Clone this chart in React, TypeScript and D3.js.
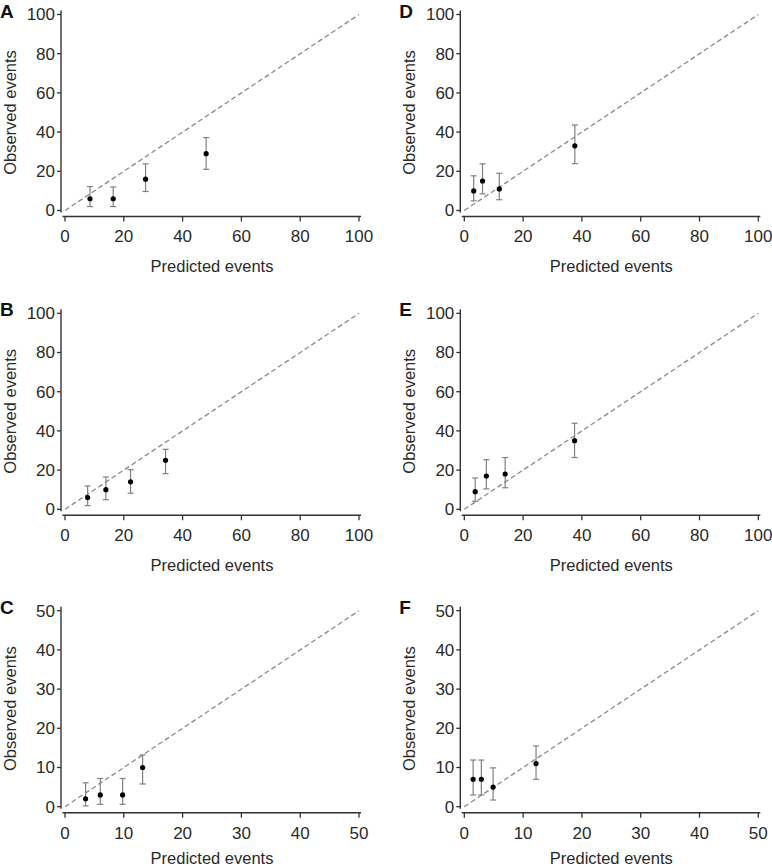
import React from "react";
import * as d3 from "d3";

// Panel data: predicted (x), observed (y), lower CI, upper CI
const predA = [8.5, 16.4, 27.4, 48];
const obsA = [6, 6, 16, 29];
const loA = [2, 2, 9.7, 21];
const hiA = [12.2, 12, 23.8, 37.2];

const predB = [7.7, 13.9, 22.3, 34.2];
const obsB = [6, 10, 14, 25];
const loB = [1.9, 4.9, 8.2, 18.2];
const hiB = [11.9, 16.5, 20.2, 30.6];

const predC = [3.5, 6.0, 9.8, 13.2];
const obsC = [2, 3, 3, 10];
const loC = [0.2, 0.6, 0.6, 5.8];
const hiC = [6.1, 7.2, 7.2, 13.2];

const predD = [3.2, 6.2, 11.9, 37.6];
const obsD = [10, 15, 11, 33];
const loD = [4.9, 8.5, 5.5, 23.9];
const hiD = [17.7, 23.8, 19, 43.6];

const predE = [3.7, 7.5, 13.9, 37.5];
const obsE = [9, 17, 18, 35];
const loE = [4.1, 10.4, 11, 26.4];
const hiE = [16, 25.3, 26.4, 43.9];

const predF = [1.5, 2.9, 4.9, 12.2];
const obsF = [7, 7, 5, 11];
const loF = [3, 3, 1.7, 7];
const hiF = [11.9, 11.9, 9.9, 15.5];

const ticks100 = [0, 20, 40, 60, 80, 100];
const ticks50 = [0, 10, 20, 30, 40, 50];

const panelLabels = ["A", "B", "C", "D", "E", "F"];
const xTitle = "Predicted events";
const yTitle = "Observed events";

const FONT = "'Liberation Sans', Arial, Helvetica, sans-serif";
const TXT = "#2a2a2a";
const AX = "#333";

type PanelProps = {
  label: string;
  pred: number[];
  obs: number[];
  lo: number[];
  hi: number[];
  max: number;
  ticks: number[];
  left: number;
  top: number;
  titleGap: number;
};

const PW = 294;
const PH = 196;

function Panel({ label, pred, obs, lo, hi, max, ticks, left, top, titleGap }: PanelProps) {
  const x = d3.scaleLinear().domain([0, max]).range([left, left + PW]);
  const y = d3.scaleLinear().domain([0, max]).range([top + PH, top]);
  const axX = left - 4;
  const axY = top + PH + 6;
  const line = d3.line<number>().x((d) => x(d)).y((d) => y(d));
  const capW = 3;
  return (
    <g>
      <text x={axX - 61} y={top + 3} fontFamily={FONT} fontWeight="bold" fontSize={19} fill="#111">
        {label}
      </text>
      {/* y axis */}
      <line x1={axX} x2={axX} y1={y(max) - 4} y2={y(0) + 2} stroke={AX} strokeWidth={1.4} />
      {ticks.map((t) => (
        <g key={"y" + t}>
          <line x1={axX - 4} x2={axX} y1={y(t)} y2={y(t)} stroke={AX} strokeWidth={1.3} />
          <text
            x={axX - 6}
            y={y(t)}
            dy="0.35em"
            textAnchor="end"
            fontFamily={FONT}
            fontSize={17}
            fill={TXT}
          >
            {t}
          </text>
        </g>
      ))}
      {/* x axis */}
      <line x1={x(0) - 2.5} x2={x(max) + 2} y1={axY} y2={axY} stroke={AX} strokeWidth={1.4} />
      {ticks.map((t) => (
        <g key={"x" + t}>
          <line x1={x(t)} x2={x(t)} y1={axY} y2={axY + 5} stroke={AX} strokeWidth={1.3} />
          <text
            x={x(t)}
            y={axY + 20}
            dy="0.35em"
            textAnchor="middle"
            fontFamily={FONT}
            fontSize={17}
            fill={TXT}
          >
            {t}
          </text>
        </g>
      ))}
      <text
        x={x(max / 2)}
        y={axY + titleGap}
        dy="0.35em"
        textAnchor="middle"
        fontFamily={FONT}
        fontSize={16.5}
        fill={TXT}
      >
        {xTitle}
      </text>
      <text
        transform={`translate(${axX - 51},${y(max / 2)}) rotate(-90)`}
        dy="0.35em"
        textAnchor="middle"
        fontFamily={FONT}
        fontSize={16.5}
        fill={TXT}
      >
        {yTitle}
      </text>
      {/* reference line */}
      <path d={line([0, max]) || ""} stroke="#8a8a8a" strokeWidth={1.3} strokeDasharray="5,3" fill="none" />
      {/* error bars and points */}
      {pred.map((p, i) => (
        <g key={"p" + i}>
          <line x1={x(p)} x2={x(p)} y1={y(lo[i])} y2={y(hi[i])} stroke="#808080" strokeWidth={1.2} />
          <line x1={x(p) - capW} x2={x(p) + capW} y1={y(lo[i])} y2={y(lo[i])} stroke="#808080" strokeWidth={1.2} />
          <line x1={x(p) - capW} x2={x(p) + capW} y1={y(hi[i])} y2={y(hi[i])} stroke="#808080" strokeWidth={1.2} />
          <circle cx={x(p)} cy={y(obs[i])} r={2.6} fill="#000" />
        </g>
      ))}
    </g>
  );
}

export default function App() {
  const leftCol = 65;
  const rightCol = 464.3;
  const tops = [14.5, 313.3, 610.7];
  const gaps = [50, 50, 46];
  return (
    <svg
      width={772}
      height={867}
      style={{ position: "absolute", left: 0, top: 0, background: "#fff" }}
    >
      <rect width={772} height={867} fill="#fff" />
      <Panel label={panelLabels[0]} pred={predA} obs={obsA} lo={loA} hi={hiA} max={100} ticks={ticks100} left={leftCol} top={tops[0]} titleGap={gaps[0]} />
      <Panel label={panelLabels[1]} pred={predB} obs={obsB} lo={loB} hi={hiB} max={100} ticks={ticks100} left={leftCol} top={tops[1]} titleGap={gaps[1]} />
      <Panel label={panelLabels[2]} pred={predC} obs={obsC} lo={loC} hi={hiC} max={50} ticks={ticks50} left={leftCol} top={tops[2]} titleGap={gaps[2]} />
      <Panel label={panelLabels[3]} pred={predD} obs={obsD} lo={loD} hi={hiD} max={100} ticks={ticks100} left={rightCol} top={tops[0]} titleGap={gaps[0]} />
      <Panel label={panelLabels[4]} pred={predE} obs={obsE} lo={loE} hi={hiE} max={100} ticks={ticks100} left={rightCol} top={tops[1]} titleGap={gaps[1]} />
      <Panel label={panelLabels[5]} pred={predF} obs={obsF} lo={loF} hi={hiF} max={50} ticks={ticks50} left={rightCol} top={tops[2]} titleGap={gaps[2]} />
    </svg>
  );
}
